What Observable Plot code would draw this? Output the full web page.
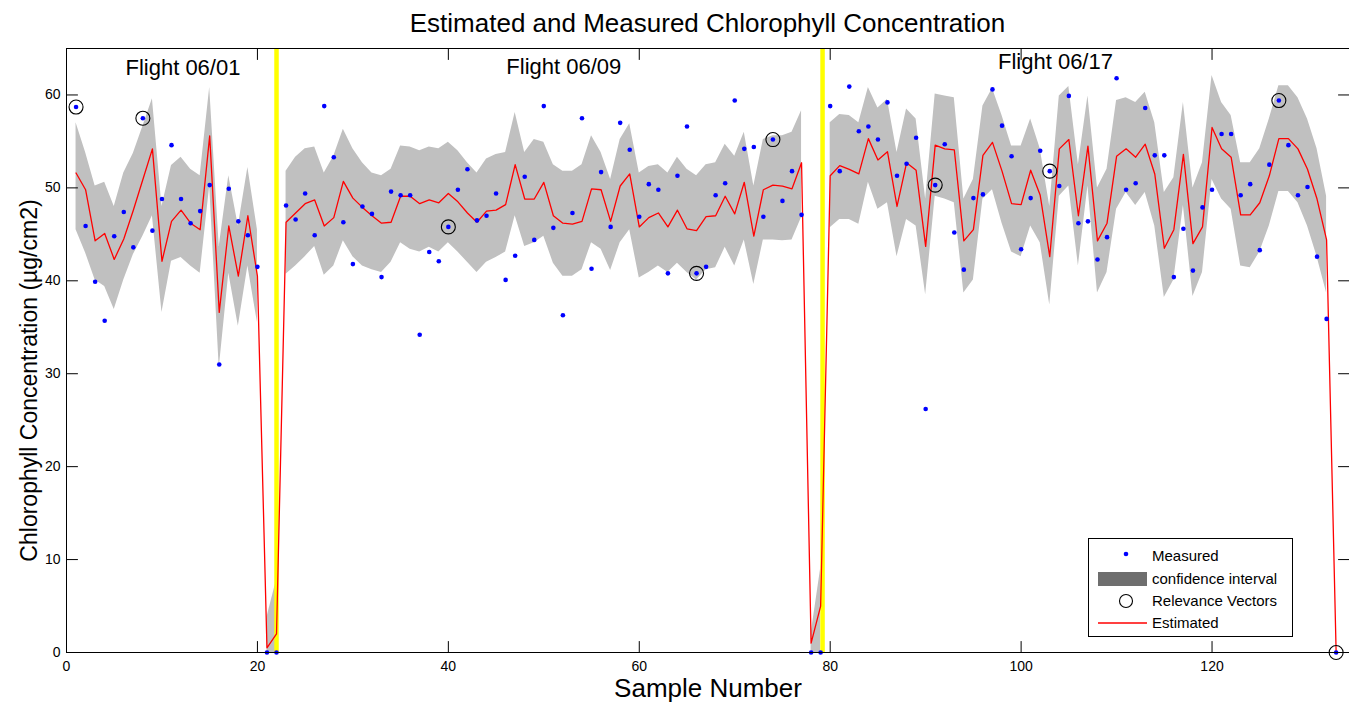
<!DOCTYPE html>
<html><head><meta charset="utf-8">
<script src="https://cdn.jsdelivr.net/npm/d3@7"></script>
<script src="https://cdn.jsdelivr.net/npm/@observablehq/plot@0.6"></script>
<style>
body{margin:0;background:#fff;font-family:"Liberation Sans",Arial,sans-serif;}
#wrap{position:relative;width:1349px;height:704px;overflow:hidden;}
#chart{position:absolute;left:0;top:0;}
#title{position:absolute;left:66px;width:1283px;top:8px;text-align:center;font-size:26px;line-height:30px;color:#000;white-space:nowrap;}
#legend{position:absolute;left:1088px;top:538px;}
</style></head><body>
<div id="wrap"><div id="chart"></div><div id="title"></div><div id="legend"></div></div>
<script>
const sampleNumber = d3.range(1, 134);
const measured = [
 58.7,45.9,39.9,35.7,44.8,47.4,43.6,57.5,45.4,48.8, 54.6,48.8,46.2,47.5,50.3,31.0,49.9,46.4,44.9,41.5,
 0,0,
 48.1,46.6,49.4,44.9,58.8,53.3,46.3,41.8,48.0,47.2, 40.4,49.6,49.2,49.2,34.2,43.1,42.1,45.8,49.8,52.0,
 46.5,47.0,49.4,40.1,42.7,51.2,44.4,58.8,45.7,36.3, 47.3,57.5,41.3,51.7,45.8,57.0,54.1,46.9,50.4,49.8,
 40.8,51.3,56.6,40.8,41.5,49.2,50.5,59.4,54.2,54.4, 46.9,55.2,48.6,51.8,47.1,
 0,0,
 58.8,51.8,60.9,56.1,56.6,55.2,59.2,51.3,52.6,55.4, 26.2,50.3,54.7,45.2,41.2,48.9,49.3,60.6,56.7,53.4,
 43.4,48.9,54.0,51.8,50.2,59.9,46.2,46.4,42.3,44.7, 61.8,49.8,50.5,58.6,53.5,53.5,40.4,45.6,41.1,47.9,
 49.8,55.8,55.8,49.2,50.4,43.3,52.5,59.4,54.6,49.2, 50.1,42.6,35.9,
 0
];
const estimated = [
 51.6,49.8,44.3,45.1,42.3,44.5,47.6,50.9,54.2,42.1, 46.4,47.6,46.2,45.5,55.6,36.6,45.9,40.5,47.0,40.5,
 0.5,2.0,
 46.3,47.3,48.3,48.7,45.9,46.8,50.7,48.9,47.9,47.0, 46.2,46.3,49.1,49.1,48.3,48.7,48.4,49.4,48.5,47.3,
 46.3,47.5,47.6,48.2,52.5,48.8,48.8,50.6,47.0,46.2, 46.1,46.4,49.9,49.8,46.4,50.2,51.5,45.8,46.8,47.3,
 45.8,47.6,45.6,45.4,46.9,47.0,49.1,47.2,50.6,44.8, 49.8,50.3,50.2,49.9,52.7,
 1.0,5.0,
 51.3,52.4,52.0,51.5,55.3,53.0,53.9,48.0,52.7,51.9, 43.7,54.6,54.2,54.1,44.3,45.5,53.5,54.9,51.8,48.3,
 48.2,51.9,49.2,42.6,54.2,55.2,47.0,54.5,44.3,46.2, 53.4,54.2,53.3,54.7,51.5,43.5,45.5,53.6,44.0,45.8,
 56.5,54.2,53.3,47.1,47.1,48.4,51.3,55.3,55.3,54.2, 52.0,48.8,44.4,
 0
];
const upperCI = [
 57.0,53.8,50.2,50.6,48.0,51.6,53.7,56.6,59.6,48.0, 52.4,53.3,52.0,51.3,60.8,43.7,51.3,45.9,52.2,45.5,
 3.8,7.8,
 51.8,53.3,54.2,54.4,51.6,53.4,56.3,54.2,52.7,51.6, 51.3,52.0,54.5,54.4,54.0,54.4,54.2,54.9,54.0,52.7,
 51.6,53.1,53.6,53.8,58.1,53.8,55.2,54.9,52.5,51.8, 51.8,52.5,55.6,53.8,50.9,55.2,56.9,51.6,52.3,52.5,
 51.6,53.3,52.0,51.3,52.5,52.7,54.7,53.4,56.0,50.2, 55.2,55.6,55.6,56.0,58.3,
 2.0,9.0,
 57.0,57.9,57.8,57.0,60.8,58.6,59.5,53.8,58.5,57.4, 48.8,60.1,59.9,59.7,48.8,50.9,58.8,60.7,57.8,54.5,
 54.5,57.4,54.2,48.0,59.9,60.9,52.5,59.9,50.0,52.0, 59.4,59.7,59.2,60.3,57.0,49.5,51.1,59.2,50.0,52.7,
 62.1,59.2,57.8,52.7,52.7,54.2,57.4,61.0,61.0,59.7, 57.4,54.2,49.1
];
const lowerCI = [
 45.5,43.0,40.1,39.4,36.9,40.1,42.8,44.8,47.0,36.6, 42.1,42.5,41.6,40.8,50.2,30.6,40.8,35.1,41.6,35.5,
 0,0,
 40.7,41.6,42.6,43.7,40.6,41.6,44.3,42.6,41.6,41.2, 40.9,42.0,44.1,43.4,43.1,43.6,43.1,44.1,43.1,42.0,
 40.9,42.0,42.5,43.1,47.0,43.7,44.1,44.8,41.9,40.5, 40.5,41.2,44.1,43.4,41.1,44.1,45.5,40.3,40.9,41.6,
 40.9,41.9,40.9,40.1,41.2,41.4,43.6,41.6,44.4,39.6, 44.4,44.4,44.3,44.4,46.8,
 0,0,
 45.7,46.6,46.6,46.1,50.6,47.7,48.4,42.6,46.6,45.9, 38.5,49.1,48.8,48.4,38.7,40.1,48.8,49.8,46.2,43.1,
 42.6,45.9,44.1,37.4,49.1,50.2,41.6,50.2,38.7,40.9, 47.7,49.5,48.1,49.5,45.9,38.2,40.1,48.1,38.3,40.9,
 50.9,48.8,47.7,41.6,41.4,43.1,45.9,49.6,49.6,48.4, 45.9,42.6,38.7
];
const relevanceVectors = [1, 8, 40, 66, 74, 91, 103, 127, 133];
const bandRanges = [[1, 20], [21, 22], [23, 77], [78, 79], [80, 132]];
const flightBreaks = [22, 79.2];
const flightNames = ["Flight 06/01", "Flight 06/09", "Flight 06/17"];
const xTicks = [0, 20, 40, 60, 80, 100, 120];
const yTicks = [0, 10, 20, 30, 40, 50, 60];
const titleText = "Estimated and Measured Chlorophyll Concentration";
const xLabel = "Sample Number";
const yLabel = "Chlorophyll Concentration (µg/cm2)";
const legendItems = ["Measured", "confidence interval", "Relevance Vectors", "Estimated"];

const points = sampleNumber.map((x, i) => ({x, measured: measured[i], estimated: estimated[i]}));
const band = [];
bandRanges.forEach(([a, b], s) => {
  for (let x = a; x <= b; x++) band.push({x, seg: s, lo: lowerCI[x - 1], hi: upperCI[x - 1]});
});
const rv = points.filter(d => relevanceVectors.includes(d.x));

const tickShape = {draw(ctx, l) { ctx.moveTo(0, 0); ctx.lineTo(0, -l); }};
const tk = {length: 11, anchor: "start", shape: tickShape, stroke: "#000", strokeWidth: 1};

const chart = Plot.plot({
  width: 1349, height: 704,
  marginLeft: 66, marginRight: 0, marginTop: 48, marginBottom: 52,
  style: {fontFamily: "'Liberation Sans', Arial, sans-serif", background: "#fff", overflow: "hidden"},
  x: {domain: [0, 134.4]},
  y: {domain: [0, 65]},
  marks: [
    Plot.areaY(band, {x: "x", y1: "lo", y2: "hi", z: "seg", fill: "#c0c0c0"}),
    Plot.ruleX(flightBreaks, {x: d => d, stroke: "#ffff00", strokeWidth: 4.5}),
    Plot.line(points, {x: "x", y: "estimated", stroke: "#ff0000", strokeWidth: 1.3}),
    Plot.dot(points, {x: "x", y: "measured", r: 2.3, fill: "#0000ff", stroke: "none"}),
    Plot.dot(rv, {x: "x", y: "measured", r: 7, stroke: "#000", strokeWidth: 1.1, fill: "none"}),
    Plot.text(flightNames, {x: [12.2, 52.1, 103.6], y: [62.9, 63.0, 63.5], text: d => d, fontSize: 22, fill: "#000"}),
    Plot.frame({stroke: "#000", strokeWidth: 1}),
    Plot.vector(xTicks, {x: d => d, frameAnchor: "bottom", rotate: 0, ...tk}),
    Plot.vector(xTicks, {x: d => d, frameAnchor: "top", rotate: 180, ...tk}),
    Plot.vector(yTicks, {y: d => d, frameAnchor: "left", rotate: 90, ...tk}),
    Plot.vector(yTicks, {y: d => d, frameAnchor: "right", rotate: -90, ...tk}),
    Plot.axisX(xTicks, {tickSize: 0, tickPadding: 9, fontSize: 14, label: null}),
    Plot.axisY(yTicks, {tickSize: 0, tickPadding: 6, fontSize: 14, label: null}),
    Plot.text([xLabel], {frameAnchor: "bottom", dy: 36, fontSize: 26, text: d => d, lineAnchor: "middle", textAnchor: "middle", fill: "#000"}),
    Plot.text([yLabel], {frameAnchor: "left", dx: -37, dy: 30, rotate: -90, fontSize: 23, text: d => d, lineAnchor: "middle", textAnchor: "middle", fill: "#000"})
  ]
});
document.getElementById("chart").appendChild(chart);
document.getElementById("title").textContent = titleText;

// legend
const lg = d3.select("#legend").append("svg").attr("width", 206).attr("height", 100)
  .style("font-family", "'Liberation Sans', Arial, sans-serif");
lg.append("rect").attr("x", 0.5).attr("y", 0.5).attr("width", 204).attr("height", 98).attr("fill", "#fff").attr("stroke", "#000");
const rowY = [18, 41, 63, 85];
lg.append("circle").attr("cx", 38).attr("cy", rowY[0] - 2).attr("r", 2.3).attr("fill", "#0000ff");
lg.append("rect").attr("x", 10).attr("y", rowY[1] - 7).attr("width", 49).attr("height", 14).attr("fill", "#6e6e6e");
lg.append("circle").attr("cx", 38).attr("cy", rowY[2]).attr("r", 6.5).attr("fill", "none").attr("stroke", "#000").attr("stroke-width", 1.1);
lg.append("line").attr("x1", 10).attr("x2", 59).attr("y1", rowY[3]).attr("y2", rowY[3]).attr("stroke", "#ff0000").attr("stroke-width", 1.3);
lg.selectAll("text.l").data(legendItems).join("text").attr("class", "l")
  .attr("x", 64).attr("y", (d, i) => rowY[i]).attr("dy", "0.35em").attr("font-size", 15).text(d => d);
</script>
</body></html>
